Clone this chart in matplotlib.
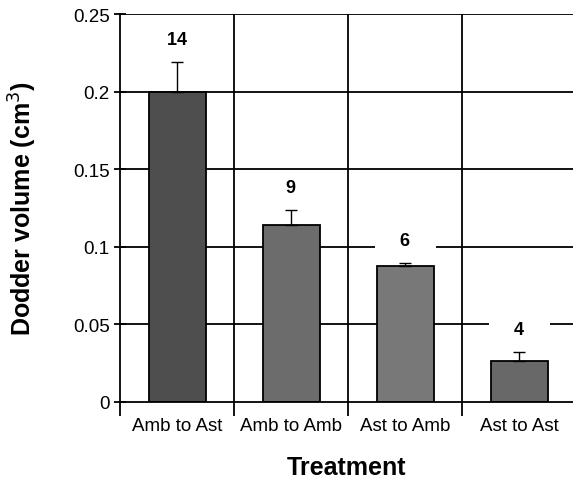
import matplotlib
matplotlib.use('Agg')
import matplotlib.pyplot as plt
import numpy as np

plt.rcParams['font.family'] = ['Liberation Sans', 'DejaVu Sans']

treatments = ['Amb to Ast', 'Amb to Amb', 'Ast to Amb', 'Ast to Ast']
volume = [0.200, 0.114, 0.0875, 0.0265]
sem = [0.019, 0.010, 0.002, 0.0057]
n_plants = [14, 9, 6, 4]
bar_colors = ['#4e4e4e', '#6c6c6c', '#787878', '#686868']

fig = plt.figure(figsize=(5.73, 4.81), dpi=100)
ax = fig.add_axes([120/573, 1 - 403/481, 1 - 120/573, (403 - 15)/481])

x = np.arange(len(treatments))

# horizontal grid lines and category separators, behind the bars
for yv in [0.05, 0.1, 0.15, 0.2, 0.25]:
    ax.axhline(yv, color='black', lw=1.3, zorder=0)
for xv in [0.5, 1.5, 2.5]:
    ax.axvline(xv, color='black', lw=1.3, zorder=0)

ax.bar(x, volume, width=0.5, color=bar_colors, edgecolor='black', linewidth=1.3, zorder=2)
ax.errorbar(x, volume, yerr=[np.zeros(len(sem)), sem], fmt='none', ecolor='black',
            elinewidth=1.0, capsize=4.5, capthick=1.0, zorder=3)

for xi, v, e, n in zip(x, volume, sem, n_plants):
    ax.annotate('    %d    ' % n, (xi, v + e), xytext=(0, 16), textcoords='offset points',
                ha='center', va='center', fontsize=13, fontweight='bold',
                bbox=dict(boxstyle='square,pad=0.3', fc='white', ec='none'), zorder=4)

ax.set_xlim(-0.5, 3.47)
ax.set_ylim(0, 0.25)
ax.set_yticks([0, 0.05, 0.1, 0.15, 0.2, 0.25])
ax.set_yticklabels(['0', '0.05', '0.1', '0.15', '0.2', '0.25'], fontsize=13.5)
ax.set_xticks(x)
ax.set_xticklabels(treatments, fontsize=13.5)
ax.set_xticks([-0.5, 0.5, 1.5, 2.5], minor=True)
ax.tick_params(axis='x', which='major', length=0, pad=11)
ax.tick_params(axis='x', which='minor', direction='out', length=10, width=1.3)
ax.tick_params(axis='y', direction='inout', length=9, width=1.3, pad=3)

for s in ['top', 'right']:
    ax.spines[s].set_visible(False)
ax.spines['left'].set_linewidth(1.3)
ax.spines['bottom'].set_linewidth(1.3)
ax.spines['left'].set_bounds(0, 0.25)

ax.set_ylabel('Dodder volume (cm$^3$)', fontsize=18, fontweight='bold')
ax.yaxis.set_label_coords(-(120 - 39) / 453, 0.5)
ax.set_xlabel('Treatment', fontsize=18, fontweight='bold')
ax.xaxis.set_label_coords(0.5, -(456 - 403) / 388)

fig.savefig('out.png', dpi=100)
